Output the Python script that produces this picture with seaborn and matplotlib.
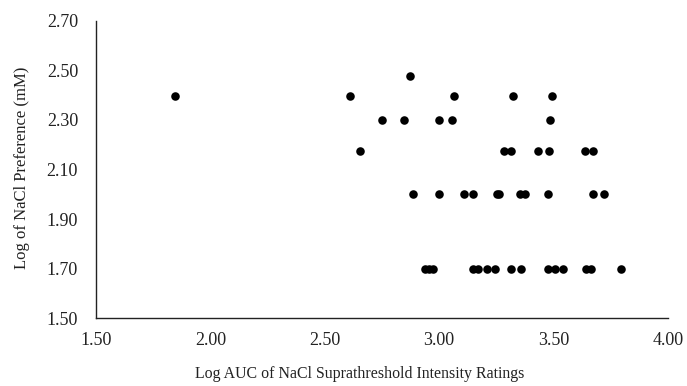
import matplotlib
matplotlib.use("Agg")
import matplotlib.pyplot as plt
import seaborn as sns
import pandas as pd
import numpy as np
from matplotlib.ticker import FormatStrFormatter

sns.set_theme(style="white")
plt.rcParams['font.family'] = ['Liberation Serif', 'DejaVu Serif']

auc_240 = [1.844, 2.611, 3.066, 3.322, 3.495]
auc_248 = [2.874]
auc_230 = [2.751, 2.845, 3.000, 3.056, 3.486]
auc_218 = [2.652, 3.282, 3.315, 3.432, 3.479, 3.638, 3.674]
auc_200 = [2.884, 3.000, 3.109, 3.146, 3.252, 3.262, 3.353, 3.375, 3.476, 3.673, 3.720]
auc_170 = [2.937, 2.955, 2.972, 3.147, 3.169, 3.210, 3.245, 3.315, 3.359,
           3.476, 3.505, 3.540, 3.642, 3.663, 3.797]

pref_levels = [2.477, 2.398, 2.301, 2.176, 2.000, 1.699]
groups = [auc_248, auc_240, auc_230, auc_218, auc_200, auc_170]

xs, ys = [], []
for lvl, g in zip(pref_levels, groups):
    xs.extend(g)
    ys.extend([lvl] * len(g))
df = pd.DataFrame({"auc": xs, "pref": ys})

x_ticks = [1.5, 2.0, 2.5, 3.0, 3.5, 4.0]
y_ticks = [1.5, 1.7, 1.9, 2.1, 2.3, 2.5, 2.7]

fig = plt.figure(figsize=(6.87, 3.86), dpi=100)
ax = fig.add_axes([0.140, 0.1754, 0.832, 0.7706])
sns.scatterplot(data=df, x="auc", y="pref", ax=ax, color="black",
                s=38, edgecolor="black", linewidth=0, legend=False)

ax.set_xlim(1.5, 4.0)
ax.set_ylim(1.5, 2.7)
ax.set_xticks(x_ticks)
ax.set_yticks(y_ticks)
ax.xaxis.set_major_formatter(FormatStrFormatter('%.2f'))
ax.yaxis.set_major_formatter(FormatStrFormatter('%.2f'))
ax.tick_params(axis='both', length=0, labelsize=13, colors='#222222')
ax.tick_params(axis='x', pad=10)
ax.tick_params(axis='y', pad=13)
for side in ['top', 'right']:
    ax.spines[side].set_visible(False)
for side in ['left', 'bottom']:
    ax.spines[side].set_color('#222222')
    ax.spines[side].set_linewidth(1.0)
ax.grid(False)
ax.set_xlabel("Log AUC of NaCl Suprathreshold Intensity Ratings", fontsize=11.4,
              color='#222222')
ax.set_ylabel("Log of NaCl Preference (mM)", fontsize=12, color='#222222')
ax.xaxis.set_label_coords(0.4615, -0.186)
ax.yaxis.set_label_coords(-0.129, 0.507)
ax.xaxis.label.set_verticalalignment('center')
ax.yaxis.label.set_verticalalignment('center')

fig.savefig("out.png", dpi=100)
